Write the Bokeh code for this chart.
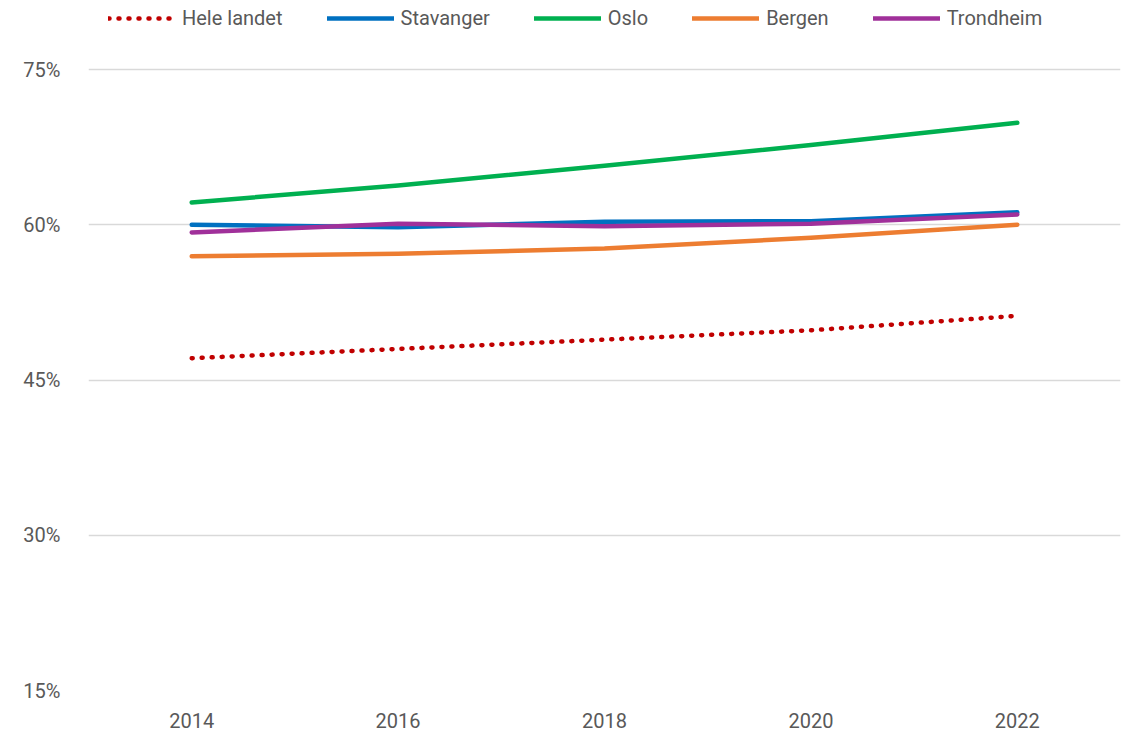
from bokeh.plotting import figure
from bokeh.models import Legend, LegendItem, FixedTicker, CustomJSTickFormatter, Range1d
from bokeh.embed import file_html
from bokeh.resources import INLINE

years = [2014, 2016, 2018, 2020, 2022]
hele_landet = [47.1, 48.0, 48.9, 49.8, 51.2]
stavanger = [60.0, 59.75, 60.3, 60.35, 61.2]
oslo = [62.15, 63.8, 65.7, 67.7, 69.85]
bergen = [56.95, 57.2, 57.7, 58.75, 60.0]
trondheim = [59.25, 60.1, 59.85, 60.1, 61.0]

y_ticks = [15, 30, 45, 60, 75]
x_ticks = [2014, 2016, 2018, 2020, 2022]

FONT = "Roboto"
TXT = "#595959"
GRID = "#D9D9D9"

# frame spans full height down to the 15% line; headroom above 75% holds the legend
y_top = 75 + 69 * 60 / 621

p = figure(width=1122, height=733, output_backend="svg", toolbar_location=None,
           x_range=Range1d(2013, 2023), y_range=Range1d(15, y_top),
           min_border_left=88, min_border_right=2, min_border_top=0, min_border_bottom=43)
p.outline_line_color = None
p.background_fill_color = "white"
p.border_fill_color = "white"

series = [
    ("Hele landet", hele_landet, "#C00000", "1 9"),
    ("Stavanger", stavanger, "#0070C0", "solid"),
    ("Oslo", oslo, "#00B050", "solid"),
    ("Bergen", bergen, "#ED7D31", "solid"),
    ("Trondheim", trondheim, "#A0309A", "solid"),
]
items = []
for name, vals, color, dash in series:
    r = p.line(years, vals, line_color=color, line_width=4.5, line_dash=dash,
               line_cap="round", line_join="round")
    items.append(LegendItem(label=name, renderers=[r]))

p.xaxis.ticker = FixedTicker(ticks=x_ticks)
p.yaxis.ticker = FixedTicker(ticks=y_ticks)
p.yaxis.formatter = CustomJSTickFormatter(code="return tick.toFixed(0) + '%';")
for ax in (p.xaxis[0], p.yaxis[0]):
    ax.axis_line_color = None
    ax.major_tick_line_color = None
    ax.minor_tick_line_color = None
    ax.major_label_text_font = FONT
    ax.major_label_text_font_size = "20px"
    ax.major_label_text_color = TXT
p.xaxis.major_label_standoff = 16
p.yaxis.major_label_standoff = 22

p.xgrid.grid_line_color = None
p.ygrid.grid_line_color = GRID
p.ygrid.grid_line_width = 1.5

legend = Legend(items=items, orientation="horizontal", location=(20, 660),
                glyph_width=67, glyph_height=20, label_standoff=7, spacing=44,
                label_text_font=FONT, label_text_font_size="20px",
                label_text_color=TXT, border_line_color=None,
                background_fill_alpha=0, padding=4, margin=0)
p.add_layout(legend, "center")

open("out.html", "w").write(file_html(p, INLINE))
